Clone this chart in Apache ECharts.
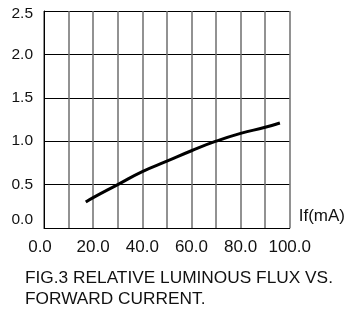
<!DOCTYPE html>
<html>
<head>
<meta charset="utf-8">
<script src="https://cdn.jsdelivr.net/npm/echarts@6/dist/echarts.min.js"></script>
<style>
  html, body { margin: 0; padding: 0; background: #fff; }
  #chart { width: 348px; height: 313px; }
</style>
</head>
<body>
<div id="chart"></div>
<script>
// forward current (mA) vs relative luminous flux
const current = [17, 20, 30, 40, 50, 60, 70, 80, 90, 96]
const flux = [0.30, 0.35, 0.50, 0.65, 0.77, 0.89, 1.00, 1.09, 1.16, 1.21]
const xTickLabels = ['0.0', '20.0', '40.0', '60.0', '80.0', '100.0']
const yTickLabels = ['0.0', '0.5', '1.0', '1.5', '2.0', '2.5']

const font = 'Liberation Sans, Arial, sans-serif'

const chart = echarts.init(document.getElementById('chart'))

chart.setOption({
  animation: false,
  title: {
    text: 'FIG.3 RELATIVE LUMINOUS FLUX VS.\nFORWARD CURRENT.',
    left: 20,
    top: 262,
    textStyle: {
      fontFamily: font,
      fontSize: 17.3,
      fontWeight: 'normal',
      color: '#111',
      lineHeight: 21.5,
    },
  },
  grid: {
    left: 44,
    right: 56,
    top: 11,
    bottom: 85,
  },
  xAxis: {
    type: 'value',
    min: 0,
    max: 100,
    interval: 10,
    name: 'If(mA)',
    nameLocation: 'end',
    nameGap: 9,
    nameTextStyle: {
      fontFamily: font,
      fontSize: 17,
      color: '#111',
      align: 'left',
      verticalAlign: 'bottom',
      padding: [0, 0, 3, 0],
    },
    axisLine: { lineStyle: { color: '#000', width: 1 } },
    axisTick: { show: false },
    axisLabel: {
      margin: 11,
      fontFamily: font,
      fontSize: 17,
      color: '#111',
      showMinLabel: true,
      showMaxLabel: true,
      // first label sits a little left of the axis origin in the original
      formatter: (v) => {
        if (v % 20 !== 0) return ''
        return v === 0 ? '{first|' + xTickLabels[0] + '}' : xTickLabels[v / 20]
      },
      rich: {
        first: {
          fontFamily: font,
          fontSize: 17,
          color: '#111',
          padding: [0, 8, 0, 0],
        },
      },
    },
    splitLine: { show: true, lineStyle: { color: '#6e6e6e', width: 1.5 } },
  },
  yAxis: {
    type: 'value',
    min: 0,
    max: 2.5,
    interval: 0.5,
    axisLine: { show: true, lineStyle: { color: '#000', width: 1 } },
    axisTick: { show: false },
    axisLabel: {
      margin: 11,
      fontFamily: font,
      fontSize: 15.5,
      color: '#111',
      // end labels are nudged inward in the original
      formatter: (v) => {
        const i = Math.round(v / 0.5)
        if (i === 0) return '{low|' + yTickLabels[i] + '}'
        if (i === yTickLabels.length - 1) return '{high|' + yTickLabels[i] + '}'
        return yTickLabels[i]
      },
      rich: {
        low: { fontFamily: font, fontSize: 15.5, color: '#111', padding: [0, 0, 16, 0] },
        high: { fontFamily: font, fontSize: 15.5, color: '#111', padding: [6, 0, 0, 0] },
      },
    },
    splitLine: { show: true, lineStyle: { color: '#000', width: 1 } },
  },
  series: [
    {
      type: 'line',
      data: current.map((c, i) => [c, flux[i]]),
      smooth: true,
      showSymbol: false,
      lineStyle: { color: '#000', width: 3 },
    },
  ],
})
</script>
</body>
</html>
